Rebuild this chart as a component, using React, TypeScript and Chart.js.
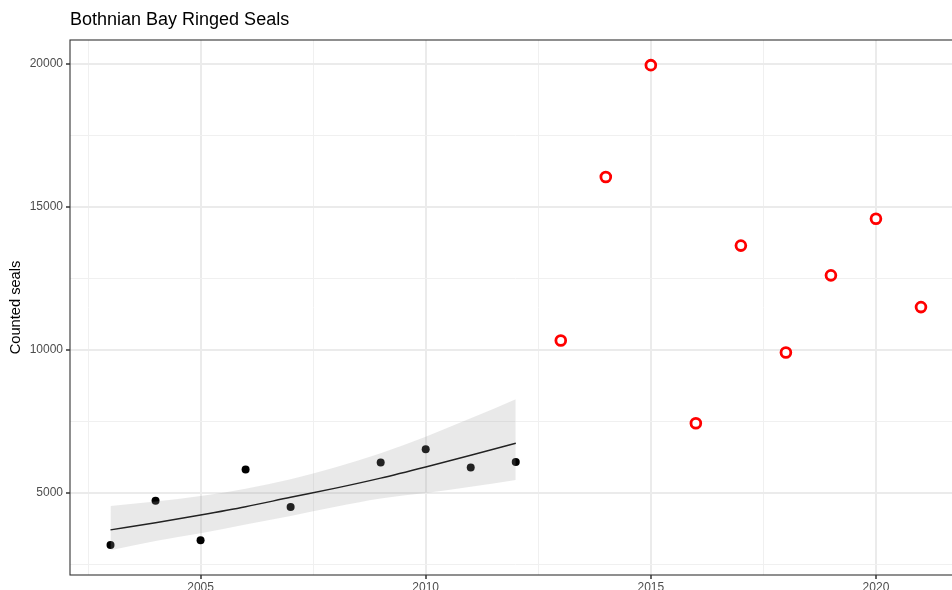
import React, { useEffect, useRef } from "react";
import { Chart, registerables } from "chart.js";

Chart.register(...registerables);

const chartTitle = "Bothnian Bay Ringed Seals";
const yAxisTitle = "Counted seals";

const earlyYears = [2003, 2004, 2005, 2006, 2007, 2009, 2010, 2011, 2012];
const earlyCounts = [3180, 4730, 3350, 5820, 4510, 6070, 6530, 5890, 6080];

const recentYears = [2013, 2014, 2015, 2016, 2017, 2018, 2019, 2020, 2021];
const recentCounts = [10330, 16050, 19960, 7440, 13650, 9910, 12610, 14590, 11500];

const fitYears = [2003, 2004, 2005, 2006, 2007, 2008, 2009, 2010, 2011, 2012];
const fitCounts = [3710, 3960, 4230, 4520, 4850, 5170, 5520, 5910, 6320, 6740];
const bandUpper = [4545, 4700, 4895, 5150, 5480, 5900, 6390, 6970, 7610, 8280];
const bandLower = [3000, 3320, 3590, 3900, 4200, 4520, 4810, 5000, 5220, 5455];

const xTickValues = [2002.5, 2005, 2007.5, 2010, 2012.5, 2015, 2017.5, 2020];
const xMajorTicks = [2005, 2010, 2015, 2020];
const yTickValues = [2500, 5000, 7500, 10000, 12500, 15000, 17500, 20000];
const yMajorTicks = [5000, 10000, 15000, 20000];

const xMin = 2002.1;
const xMax = 2021.9;
const yMin = 2133;
const yMax = 20839;

const pts = (xs: number[], ys: number[]) => xs.map((x, i) => ({ x, y: ys[i] }));

const panelBorder = {
  id: "panelBorder",
  afterDatasetsDraw(chart: any) {
    const { ctx, chartArea } = chart;
    ctx.save();
    ctx.strokeStyle = "#333333";
    ctx.lineWidth = 1.1;
    ctx.strokeRect(chartArea.left, chartArea.top, chartArea.right - chartArea.left, chartArea.bottom - chartArea.top);
    ctx.restore();
  },
};

export default function App() {
  const canvasRef = useRef<HTMLCanvasElement | null>(null);

  useEffect(() => {
    if (!canvasRef.current) return;
    const isMajorX = (v: number) => xMajorTicks.includes(v);
    const isMajorY = (v: number) => yMajorTicks.includes(v);
    const chart = new Chart(canvasRef.current, {
      type: "line",
      data: {
        datasets: [
          {
            label: "upper",
            data: pts(fitYears, bandUpper),
            borderWidth: 0,
            borderColor: "rgba(0,0,0,0)",
            pointRadius: 0,
            backgroundColor: "rgba(153,153,153,0.22)",
            fill: "+1",
            cubicInterpolationMode: "monotone",
          },
          {
            label: "lower",
            data: pts(fitYears, bandLower),
            borderWidth: 0,
            borderColor: "rgba(0,0,0,0)",
            pointRadius: 0,
            fill: false,
            cubicInterpolationMode: "monotone",
          },
          {
            label: "fit",
            data: pts(fitYears, fitCounts),
            borderColor: "#000000",
            borderWidth: 1.4,
            pointRadius: 0,
            fill: false,
            cubicInterpolationMode: "monotone",
          },
          {
            label: "early",
            data: pts(earlyYears, earlyCounts),
            showLine: false,
            pointRadius: 4,
            pointBackgroundColor: "#000000",
            pointBorderWidth: 0,
            borderColor: "#000000",
          },
          {
            label: "recent",
            data: pts(recentYears, recentCounts),
            showLine: false,
            pointRadius: 4.9,
            pointBackgroundColor: "#ffffff",
            pointBorderColor: "#ff0000",
            pointBorderWidth: 2.8,
            borderColor: "#ff0000",
          },
        ],
      },
      options: {
        animation: false,
        responsive: true,
        maintainAspectRatio: false,
        layout: { padding: { left: 0, right: 18.5, top: 0, bottom: 0 } },
        plugins: {
          legend: { display: false },
          tooltip: { enabled: false },
          title: {
            display: true,
            text: chartTitle,
            align: "start",
            fullSize: false,
            color: "#000000",
            font: { family: "'Liberation Sans', Arial, sans-serif", size: 18, weight: "normal", lineHeight: 1.2 },
            padding: { top: 9, bottom: 9.4 },
          },
        },
        scales: {
          x: {
            type: "linear",
            min: xMin,
            max: xMax,
            afterBuildTicks: (scale: any) => {
              scale.ticks = xTickValues.map((v) => ({ value: v }));
            },
            afterFit: (scale: any) => {
              scale.height = 30;
            },
            border: { display: false },
            grid: {
              color: (c: any) => (isMajorX(c.tick?.value) ? "#ebebeb" : "#f0f0f0"),
              lineWidth: (c: any) => (isMajorX(c.tick?.value) ? 2 : 1),
              tickColor: (c: any) => (isMajorX(c.tick?.value) ? "#333333" : "rgba(0,0,0,0)"),
              tickWidth: 1.5,
              tickLength: 4,
              drawTicks: true,
            },
            ticks: {
              autoSkip: false,
              maxRotation: 0,
              padding: 1,
              color: "#4d4d4d",
              font: { family: "'Liberation Sans', Arial, sans-serif", size: 12 },
              callback: (v: any) => (isMajorX(Number(v)) ? String(v) : ""),
            },
          },
          y: {
            type: "linear",
            min: yMin,
            max: yMax,
            afterBuildTicks: (scale: any) => {
              scale.ticks = yTickValues.map((v) => ({ value: v }));
            },
            afterFit: (scale: any) => {
              scale.width = 70;
            },
            border: { display: false },
            grid: {
              color: (c: any) => (isMajorY(c.tick?.value) ? "#ebebeb" : "#f0f0f0"),
              lineWidth: (c: any) => (isMajorY(c.tick?.value) ? 2 : 1),
              tickColor: (c: any) => (isMajorY(c.tick?.value) ? "#333333" : "rgba(0,0,0,0)"),
              tickWidth: 1.5,
              tickLength: 4,
              drawTicks: true,
            },
            ticks: {
              autoSkip: false,
              padding: 3,
              color: "#4d4d4d",
              font: { family: "'Liberation Sans', Arial, sans-serif", size: 12 },
              callback: (v: any) => (isMajorY(Number(v)) ? String(v) : ""),
            },
            title: {
              display: true,
              text: yAxisTitle,
              color: "#000000",
              font: { family: "'Liberation Sans', Arial, sans-serif", size: 14.67, lineHeight: 1.2 },
              padding: { top: 7.5, bottom: 0 },
            },
          },
        },
      },
      plugins: [panelBorder],
    } as any);
    return () => chart.destroy();
  }, []);

  return (
    <div style={{ position: "fixed", left: 0, top: 0, width: 980, height: 605, background: "#ffffff" }}>
      <canvas ref={canvasRef} />
    </div>
  );
}
